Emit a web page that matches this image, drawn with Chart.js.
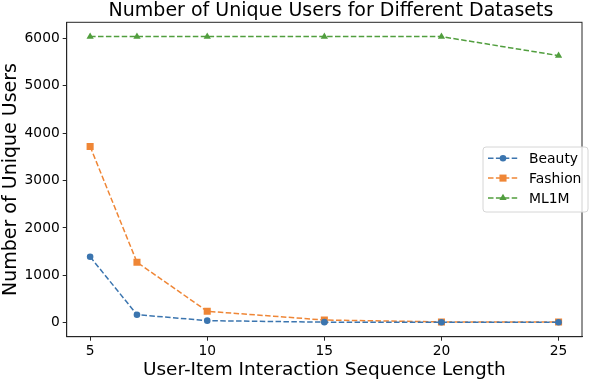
<!DOCTYPE html>
<html lang="en">
<head>
  <meta charset="UTF-8">
  <title>Number of Unique Users for Different Datasets</title>
  <script src="https://cdn.jsdelivr.net/npm/chart.js"></script>
  <style>
    body { margin: 0; background: white; }
    #wrap { width: 596px; height: 382px; }
  </style>
</head>
<body>
  <div id="wrap"><canvas id="chart" width="596" height="382"></canvas></div>
  <script>
    // sequence lengths on the x axis
    const seqLengths = [5, 7, 10, 15, 20, 25];
    const beautyUsers = [1390, 168, 42, 10, 8, 8];
    const fashionUsers = [3720, 1275, 240, 55, 15, 12];
    const ml1mUsers = [6040, 6040, 6040, 6040, 6040, 5638];
    const xTickValues = [5, 10, 15, 20, 25];
    const yTickValues = [0, 1000, 2000, 3000, 4000, 5000, 6000];

    const FONT = "'DejaVu Sans', sans-serif";
    const DASH = [5.5, 2.4];

    const series = [
      { label: "Beauty", data: beautyUsers, color: "#3b75af", style: "circle", r: 3.3 },
      { label: "Fashion", data: fashionUsers, color: "#ef8636", style: "rect", r: 5 },
      { label: "ML1M", data: ml1mUsers, color: "#519e3e", style: "triangle", r: 4.2 }
    ];

    const datasets = series.map((s) => ({
      label: s.label,
      data: seqLengths.map((x, i) => ({ x: x, y: s.data[i] })),
      borderColor: s.color,
      backgroundColor: s.color,
      borderWidth: 1.5,
      borderDash: DASH,
      pointStyle: s.style,
      pointRadius: s.r,
      pointBorderWidth: 0,
      tension: 0
    }));

    // frame, title and matplotlib-like legend
    const decorations = {
      id: "decorations",
      afterDatasetsDraw(chart) {
        const { ctx, chartArea: a } = chart;
        ctx.save();
        ctx.strokeStyle = "#262626";
        ctx.lineWidth = 1;
        ctx.setLineDash([]);
        ctx.strokeRect(a.left, a.top, a.right - a.left, a.bottom - a.top);

        ctx.fillStyle = "#000";
        ctx.font = "19px " + FONT;
        ctx.textAlign = "center";
        ctx.textBaseline = "alphabetic";
        ctx.fillText("Number of Unique Users for Different Datasets", 331, 16);

        // legend box
        const bx = 483, by = 147, bw = 105, bh = 65;
        ctx.beginPath();
        ctx.roundRect(bx, by, bw, bh, 3);
        ctx.fillStyle = "rgba(255,255,255,0.8)";
        ctx.fill();
        ctx.strokeStyle = "#d6d6d6";
        ctx.stroke();

        ctx.font = "13.9px " + FONT;
        ctx.textAlign = "left";
        ctx.textBaseline = "middle";
        series.forEach((s, i) => {
          const y = 158.3 + i * 19.8;
          ctx.strokeStyle = s.color;
          ctx.lineWidth = 1.5;
          ctx.setLineDash(DASH);
          ctx.beginPath();
          ctx.moveTo(488, y);
          ctx.lineTo(518, y);
          ctx.stroke();
          ctx.setLineDash([]);
          ctx.fillStyle = s.color;
          Chart.helpers.drawPoint(ctx, { pointStyle: s.style, radius: s.r, rotation: 0, borderWidth: 0 }, 503, y);
          ctx.fillStyle = "#000";
          ctx.fillText(s.label, 529, y + 1);
        });
        ctx.restore();
      }
    };

    new Chart(document.getElementById("chart").getContext("2d"), {
      type: "line",
      data: { datasets: datasets },
      options: {
        responsive: false,
        animation: false,
        layout: { padding: { top: 22.3, right: 14, left: 0, bottom: 0 } },
        plugins: { legend: { display: false }, tooltip: { enabled: false } },
        scales: {
          x: {
            type: "linear",
            min: 4,
            max: 26,
            afterBuildTicks: (sc) => { sc.ticks = xTickValues.map((v) => ({ value: v })); },
            afterFit: (sc) => { sc.height = 45.3; },
            grid: { drawOnChartArea: false, tickLength: 4, color: "#262626" },
            border: { color: "#262626" },
            ticks: { color: "#000", font: { family: FONT, size: 13.8 }, padding: 2, maxRotation: 0,
              callback: (v) => String(v) },
            title: {
              display: true,
              text: "User-Item Interaction Sequence Length",
              color: "#000",
              font: { family: FONT, size: 18.5 },
              padding: { top: 0, bottom: 1 }
            }
          },
          y: {
            min: -297,
            max: 6342,
            afterBuildTicks: (sc) => { sc.ticks = yTickValues.map((v) => ({ value: v })); },
            afterFit: (sc) => { sc.width = 66.7; },
            grid: { drawOnChartArea: false, tickLength: 4, color: "#262626" },
            border: { color: "#262626" },
            ticks: { color: "#000", font: { family: FONT, size: 13.8 }, padding: 3,
              callback: (v) => String(v) },
            title: {
              display: true,
              text: "Number of Unique Users",
              color: "#000",
              font: { family: FONT, size: 19 },
              padding: { top: 0, bottom: 0 }
            }
          }
        }
      },
      plugins: [decorations]
    });
  </script>
</body>
</html>
